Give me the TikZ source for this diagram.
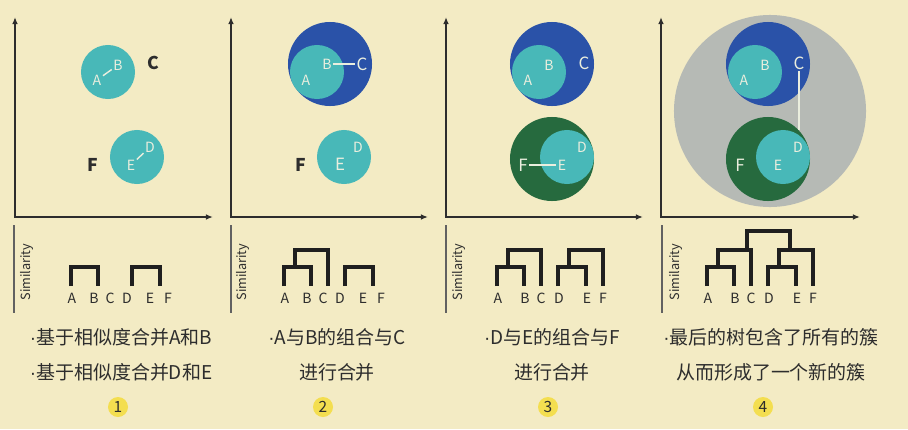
\documentclass[tikz,border=0pt]{standalone}
\usepackage{fontspec}
\setmainfont{Noto Sans CJK SC}
\newfontfamily\dotfont{Liberation Sans}
\usepackage{tikz}
\usetikzlibrary{shapes,arrows,arrows.meta,positioning,calc}
\usepackage{xcolor}
\definecolor{paper}{RGB}{243,235,196}
\definecolor{tealball}{RGB}{72,184,184}
\definecolor{blueball}{RGB}{42,82,168}
\definecolor{greenball}{RGB}{38,106,62}
\definecolor{greyball}{RGB}{182,186,181}
\definecolor{badge}{RGB}{243,222,80}
\definecolor{ink}{RGB}{45,45,45}
\definecolor{chalk}{RGB}{234,238,222}
\newcommand{\bul}{{\dotfont ·}}

\begin{document}
\begin{tikzpicture}[
    x=0.025cm, y=-0.025cm,
    >={Latex[length=5pt,width=4pt]},
    axis/.style={draw=ink, line width=1.4pt},
    simaxis/.style={draw=ink!75, line width=1.1pt},
    small/.style={circle, fill=tealball, minimum size=1.35cm, inner sep=0pt},
    bluebig/.style={circle, fill=blueball, minimum size=2.1cm, inner sep=0pt},
    greenbig/.style={circle, fill=greenball, minimum size=2.1cm, inner sep=0pt},
    greyhuge/.style={circle, fill=greyball, minimum size=4.8cm, inner sep=0pt},
    inlbl/.style={text=chalk, font=\fontsize{10}{12}\selectfont, inner sep=1pt},
    biglbl/.style={text=chalk, font=\fontsize{12}{14}\selectfont, inner sep=1pt},
    outlbl/.style={text=ink, font=\fontsize{12.5}{14}\selectfont\bfseries, inner sep=1pt},
    link/.style={draw=chalk, line width=1pt},
    leaf/.style={text=ink, font=\fontsize{10}{11}\selectfont, inner sep=0pt},
    bar/.style={draw=black!88, line width=3.2pt},
    simlbl/.style={rotate=90, text=ink, font=\fontsize{9}{10}\selectfont},
    caption/.style={align=center, text=ink, font=\fontsize{13.5}{25}\selectfont},
    badgenode/.style={circle, fill=badge, minimum size=0.5cm, inner sep=0pt, text=ink, font=\fontsize{11}{12}\selectfont}
]
    \fill[paper] (0,0) rectangle (908,429);
    \useasboundingbox (0,0) rectangle (908,429);

    % Panel 1: A+B and D+E
    \begin{scope}[shift={(0,0)}]
        \coordinate (1o) at (15,217);
        \coordinate (1y) at (15,17);
        \coordinate (1x) at (213,217);
        \draw[axis, <->] (1y) -- (1o) -- (1x);

        \node[small] (1ab) at (108,72) {};
        \node[small] (1de) at (137,157) {};
        \node[inlbl] (1A) at (97,80) {A};
        \node[inlbl] (1B) at (118,65) {B};
        \node[outlbl] (1C) at (153,63) {C};
        \node[inlbl] (1D) at (150,147) {D};
        \node[inlbl] (1E) at (131,165) {E};
        \node[outlbl] (1F) at (93,165) {F};
        \draw[link] (1A) -- (1B);
        \draw[link] (1E) -- (1D);

        \coordinate (1s0) at (14,225);
        \coordinate (1s1) at (14,313);
        \draw[simaxis] (1s0) -- (1s1);
        \node[simlbl] (1sim) at (27,272) {Similarity};

        \begin{scope}[shift={(72,0)}]
            \node[leaf] (1a) at (0,298) {A};
            \node[leaf] (1b) at (22,298) {B};
            \node[leaf] (1c) at (38,298) {C};
            \node[leaf] (1d) at (55,298) {D};
            \node[leaf] (1e) at (78,298) {E};
            \node[leaf] (1f) at (96,298) {F};
            \coordinate (1la) at (-1,286);
            \coordinate (1lb) at (26,286);
            \coordinate (1ld) at (60,286);
            \coordinate (1le) at (88,286);
            \draw[bar] (1la) -- ++(0,-19) -| (1lb);
            \draw[bar] (1ld) -- ++(0,-19) -| (1le);
        \end{scope}

        \node[caption] (1txt) at (121,355) {\bul 基于相似度合并A和B\\\bul 基于相似度合并D和E};
        \node[badgenode] (1num) at (118,407) {1};
    \end{scope}

    % Panel 2: (A,B)+C
    \begin{scope}[shift={(216,0)}]
        \coordinate (2o) at (15,217);
        \coordinate (2y) at (15,17);
        \coordinate (2x) at (212,217);
        \draw[axis, <->] (2y) -- (2o) -- (2x);

        \node[bluebig] (2abc) at (114,64) {};
        \node[small] (2ab) at (101,72) {};
        \node[small] (2de) at (128,157) {};
        \node[inlbl] (2A) at (90,80) {A};
        \node[inlbl] (2B) at (111,64) {B};
        \node[biglbl] (2C) at (146,64) {C};
        \node[inlbl] (2D) at (142,147) {D};
        \node[biglbl] (2E) at (124,164) {E};
        \node[outlbl] (2F) at (85,165) {F};
        \draw[link] (2B) -- (2C);

        \coordinate (2s0) at (15,225);
        \coordinate (2s1) at (15,313);
        \draw[simaxis] (2s0) -- (2s1);
        \node[simlbl] (2sim) at (27,272) {Similarity};

        \begin{scope}[shift={(69,0)}]
            \node[leaf] (2a) at (0,298) {A};
            \node[leaf] (2b) at (22,298) {B};
            \node[leaf] (2c) at (38,298) {C};
            \node[leaf] (2d) at (55,298) {D};
            \node[leaf] (2e) at (78,298) {E};
            \node[leaf] (2f) at (96,298) {F};
            \coordinate (2la) at (-1,286);
            \coordinate (2lb) at (26,286);
            \coordinate (2lc) at (43,286);
            \coordinate (2ld) at (60,286);
            \coordinate (2le) at (88,286);
            \coordinate (2lab) at (10,267);
            \draw[bar] (2la) -- ++(0,-19) -| (2lb);
            \draw[bar] (2ld) -- ++(0,-19) -| (2le);
            \draw[bar] (2lab) -- ++(0,-17) -| (2lc);
        \end{scope}

        \node[caption] (2txt) at (121,355) {\bul A与B的组合与C\\进行合并};
        \node[badgenode] (2num) at (107,407) {2};
    \end{scope}

    % Panel 3: (D,E)+F
    \begin{scope}[shift={(431,0)}]
        \coordinate (3o) at (15,217);
        \coordinate (3y) at (15,17);
        \coordinate (3x) at (212,217);
        \draw[axis, <->] (3y) -- (3o) -- (3x);

        \node[bluebig] (3abc) at (121,64) {};
        \node[small] (3ab) at (108,72) {};
        \node[greenbig] (3def) at (121,159) {};
        \node[small] (3de) at (136,157) {};
        \node[inlbl] (3A) at (97,80) {A};
        \node[inlbl] (3B) at (118,65) {B};
        \node[biglbl] (3C) at (153,63) {C};
        \node[inlbl] (3D) at (151,147) {D};
        \node[inlbl] (3E) at (131,165) {E};
        \node[biglbl] (3F) at (92,165) {F};
        \draw[link] (3F) -- (3E);

        \coordinate (3s0) at (15,225);
        \coordinate (3s1) at (15,313);
        \draw[simaxis] (3s0) -- (3s1);
        \node[simlbl] (3sim) at (28,272) {Similarity};

        \begin{scope}[shift={(67,0)}]
            \node[leaf] (3a) at (0,298) {A};
            \node[leaf] (3b) at (27,298) {B};
            \node[leaf] (3c) at (43,298) {C};
            \node[leaf] (3d) at (61,298) {D};
            \node[leaf] (3e) at (89,298) {E};
            \node[leaf] (3f) at (105,298) {F};
            \coordinate (3la) at (-1,286);
            \coordinate (3lb) at (26,286);
            \coordinate (3lc) at (43,286);
            \coordinate (3ld) at (60,286);
            \coordinate (3le) at (88,286);
            \coordinate (3lf) at (105,286);
            \coordinate (3lab) at (10,267);
            \coordinate (3lde) at (71,267);
            \draw[bar] (3la) -- ++(0,-19) -| (3lb);
            \draw[bar] (3ld) -- ++(0,-19) -| (3le);
            \draw[bar] (3lab) -- ++(0,-17) -| (3lc);
            \draw[bar] (3lde) -- ++(0,-17) -| (3lf);
        \end{scope}

        \node[caption] (3txt) at (121,355) {\bul D与E的组合与F\\进行合并};
        \node[badgenode] (3num) at (117,407) {3};
    \end{scope}

    % Panel 4: the whole tree
    \begin{scope}[shift={(646,0)}]
        \coordinate (4o) at (15,217);
        \coordinate (4y) at (15,17);
        \coordinate (4x) at (214,217);
        \draw[axis, <->] (4y) -- (4o) -- (4x);

        \node[greyhuge] (4all) at (124,111) {};
        \node[bluebig] (4abc) at (122,64) {};
        \node[small] (4ab) at (109,72) {};
        \node[greenbig] (4def) at (122,159) {};
        \node[small] (4de) at (137,157) {};
        \node[inlbl] (4A) at (98,80) {A};
        \node[inlbl] (4B) at (119,65) {B};
        \node[biglbl] (4C) at (153,63) {C};
        \node[inlbl] (4D) at (152,147) {D};
        \node[inlbl] (4E) at (132,165) {E};
        \node[biglbl] (4F) at (94,165) {F};
        \draw[link] (4C) -- (4C |- 4de.north);

        \coordinate (4s0) at (16,225);
        \coordinate (4s1) at (16,313);
        \draw[simaxis] (4s0) -- (4s1);
        \node[simlbl] (4sim) at (30,272) {Similarity};

        \begin{scope}[shift={(62,0)}]
            \node[leaf] (4a) at (0,298) {A};
            \node[leaf] (4b) at (27,298) {B};
            \node[leaf] (4c) at (43,298) {C};
            \node[leaf] (4d) at (61,298) {D};
            \node[leaf] (4e) at (89,298) {E};
            \node[leaf] (4f) at (105,298) {F};
            \coordinate (4la) at (-1,286);
            \coordinate (4lb) at (26,286);
            \coordinate (4lc) at (43,286);
            \coordinate (4ld) at (60,286);
            \coordinate (4le) at (88,286);
            \coordinate (4lf) at (105,286);
            \coordinate (4lab) at (10,267);
            \coordinate (4lde) at (71,267);
            \coordinate (4labc) at (39,250);
            \coordinate (4ldef) at (82,250);
            \draw[bar] (4la) -- ++(0,-19) -| (4lb);
            \draw[bar] (4ld) -- ++(0,-19) -| (4le);
            \draw[bar] (4lab) -- ++(0,-17) -| (4lc);
            \draw[bar] (4lde) -- ++(0,-17) -| (4lf);
            \draw[bar] (4labc) -- ++(0,-19) -| (4ldef);
        \end{scope}

        \node[caption] (4txt) at (125,355) {\bul 最后的树包含了所有的簇\\从而形成了一个新的簇};
        \node[badgenode] (4num) at (117,407) {4};
    \end{scope}
\end{tikzpicture}
\end{document}
